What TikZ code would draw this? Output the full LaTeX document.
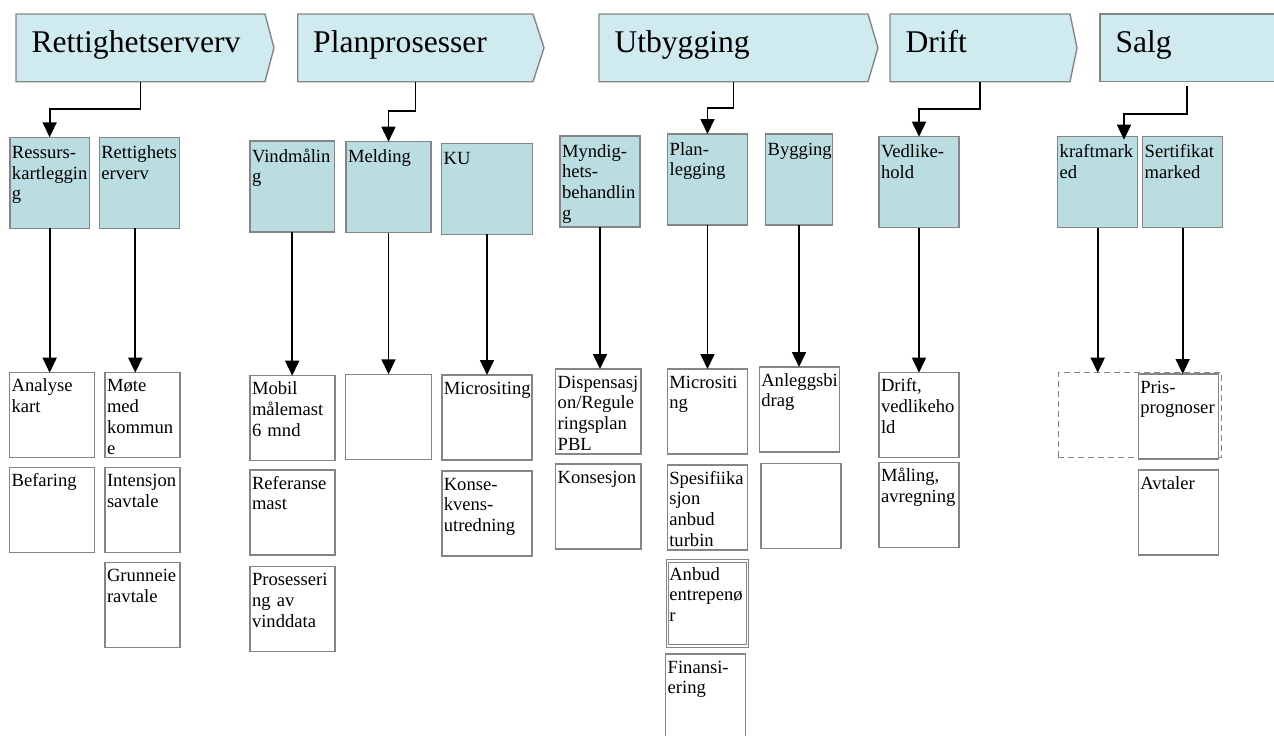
\documentclass[tikz,border=0pt]{standalone}
\usepackage{fontspec}
\setmainfont{Liberation Serif}
\usetikzlibrary{arrows.meta,backgrounds}
\definecolor{hdrfill}{HTML}{D0EBEF}
\definecolor{cellfill}{HTML}{B9DDE1}
\definecolor{edgegray}{HTML}{858585}
\hyphenpenalty=10000
\exhyphenpenalty=10000
\begin{document}
\begin{tikzpicture}[x=1pt,y=-1pt,
  phase/.style={minimum height=67.7pt,inner xsep=15.5pt,inner ysep=0pt,outer sep=0pt,
    align=left,text height=22pt,text depth=12.3pt,font=\fontsize{31.6}{36}\selectfont},
  chev/.style={fill=hdrfill,draw=edgegray,line width=1.4pt},
  cell/.style={draw=edgegray,line width=1.5pt,anchor=north west,inner xsep=2pt,inner ysep=0pt,
    outer sep=0pt,align=left,text width=76pt,font=\fontsize{18.6}{20.8}\selectfont},
  task/.style={cell,fill=cellfill,text height=21pt,text depth=70pt},
  subtask/.style={cell,fill=white,text height=19pt,text depth=66pt},
  arr/.style={-{Triangle[width=14pt,length=15pt]},line width=1.7pt}]
\useasboundingbox (0,0) rectangle (1274,736);
\clip (0,0) rectangle (1274,736);
%
\node[phase,minimum width=249pt,text width=218pt] (h1) at (140.5,47.85) {Rettighetserverv};
\node[phase,minimum width=235.3pt,text width=204.3pt] (h2) at (415.35,47.85) {Planprosesser};
\node[phase,minimum width=269pt,text width=238pt] (h3) at (733.5,47.85) {Utbygging};
\node[phase,minimum width=180pt,text width=149pt] (h4) at (980,47.85) {Drift};
\node[phase,minimum width=174pt,text width=143pt] (h5) at (1187,47.85) {Salg};
\begin{scope}[on background layer]
\draw[chev] (h1.north west) -- (h1.north east) -- ([xshift=9pt]h1.east) -- (h1.south east) -- (h1.south west) -- cycle;
\draw[chev] (h2.north west) -- (h2.north east) -- ([xshift=11pt]h2.east) -- (h2.south east) -- (h2.south west) -- cycle;
\draw[chev] (h3.north west) -- (h3.north east) -- ([xshift=10pt]h3.east) -- (h3.south east) -- (h3.south west) -- cycle;
\draw[chev] (h4.north west) -- (h4.north east) -- ([xshift=7pt]h4.east) -- (h4.south east) -- (h4.south west) -- cycle;
\draw[chev] (h5.north east) -- (h5.north west) -- (h5.south west) -- (h5.south east);
\end{scope}
%
\node[task,text width=75.3pt] (ressurs) at (10,137.3) {Ressurs-\\kartleggin\\g};
\node[task,text width=76pt] (rettlev) at (99.3,137.3) {Rettighets\\erverv};
\node[task,text width=80.3pt] (vind) at (250,141) {Vindmålin\\g};
\node[task,text width=81pt] (melding) at (346,141.7) {Melding};
\node[task,text width=86.6pt] (ku) at (441.7,143.3) {KU};
\node[task,text width=76pt] (myndig) at (560,136) {Myndig-\\hets-\\behandlin\\g};
\node[task,text width=75.6pt] (planl) at (667.7,134) {Plan-\\legging};
\node[task,text width=62.6pt] (bygging) at (765.7,134) {Bygging};
\node[task,text width=76pt] (vedl) at (879,136.7) {Vedlike-\\hold};
\node[task,text width=76pt] (kraft) at (1057.7,136.7) {kraftmark\\ed};
\node[task,text width=76pt] (sert) at (1142.7,136.7) {Sertifikat\\marked};
%
\node[subtask,text width=81pt] (analyse) at (9.6,372.7) {Analyse\\kart};
\node[subtask,text width=81pt] (befaring) at (9.6,467.7) {Befaring};
\node[subtask,text width=71pt] (mote) at (105,372.7) {Møte\\med\\kommun\\e};
\node[subtask,text width=71pt] (intensjon) at (105,467.7) {Intensjon\\savtale};
\node[subtask,text width=71pt] (grunneie) at (105,562.7) {Grunneie\\ravtale};
\node[subtask,text width=81pt] (mobil) at (250,375.7) {Mobil\\målemast\\6 mnd};
\node[subtask,text width=81pt] (referanse) at (250,470) {Referanse\\mast};
\node[subtask,text width=81pt] (prosess) at (250,566.7) {Prosesseri\\ng av\\vinddata};
\node[subtask,text width=81.7pt] (meldtom) at (345.7,374.3) {};
\node[subtask,text width=86pt] (microku) at (441.8,375) {Micrositing};
\node[subtask,text width=86pt] (konsekvens) at (441.8,471) {Konse-\\kvens-\\utredning};
\node[subtask,text width=81.3pt] (dispens) at (555.7,369) {Dispensasj\\on/Regule\\ringsplan\\PBL};
\node[subtask,text width=81.3pt] (konsesjon) at (555.7,464) {Konsesjon};
\node[subtask,text width=76pt] (microut) at (667.3,369) {Micrositi\\ng};
\node[subtask,text width=76pt] (spesif) at (667.3,465) {Spesifiika\\sjon\\anbud\\turbin};
\node[subtask,text width=76pt,line width=1.2pt,double=white,double distance=1.2pt] (anbud) at (667.3,561) {Anbud\\entrepenø\\r};
\node[subtask,text width=76pt] (finans) at (665.7,654) {Finansi-\\ering};
\node[subtask,text width=76pt] (anlegg) at (759.3,367) {Anleggsbi\\drag};
\node[subtask,text width=76pt] (anleggtom) at (761,463.3) {};
\node[subtask,text width=76pt] (driftv) at (879,372.7) {Drift,\\vedlikeho\\ld};
\node[subtask,text width=76pt] (maling) at (879,462.3) {Måling,\\avregning};
\node[subtask,text width=159.4pt,fill=none,dash pattern=on 6pt off 4pt] (krafttom) at (1058.3,372.7) {};
\node[subtask,text width=76pt] (pris) at (1138.3,374) {Pris-\\prognoser};
\node[subtask,text width=76pt] (avtaler) at (1138.3,470) {Avtaler};
%
\draw[arr] (h1.south) -- ++(0,27.3) -| (ressurs.north);
\draw[arr] (h2.south) -- ++(0,29.3) -| (melding.north);
\draw[arr] (h3.south) -- ++(0,26) -| (planl.north);
\draw[arr] (h4.south) -- ++(0,27.3) -| (vedl.north);
\draw[arr] ([yshift=-4.3pt]h5.south) -- ++(0,28.3) -| ([xshift=26.3pt,yshift=-3pt]kraft.north);
%
\draw[arr] (ressurs.south) -- (ressurs.south |- analyse.north);
\draw[arr] ([xshift=-4pt]rettlev.south) -- ([xshift=-4pt]rettlev.south |- mote.north);
\draw[arr] (vind.south) -- (vind.south |- mobil.north);
\draw[arr] (melding.south) -- (melding.south |- meldtom.north);
\draw[arr] (ku.south) -- (ku.south |- microku.north);
\draw[arr] (myndig.south) -- (myndig.south |- dispens.north);
\draw[arr] (planl.south) -- (planl.south |- microut.north);
\draw[arr] (bygging.south) -- (bygging.south |- anlegg.north);
\draw[arr] (vedl.south) -- (vedl.south |- driftv.north);
\draw[arr] (kraft.south) -- (kraft.south |- krafttom.north);
\draw[arr] (sert.south) -- (sert.south |- pris.north);
%
\end{tikzpicture}
\end{document}
